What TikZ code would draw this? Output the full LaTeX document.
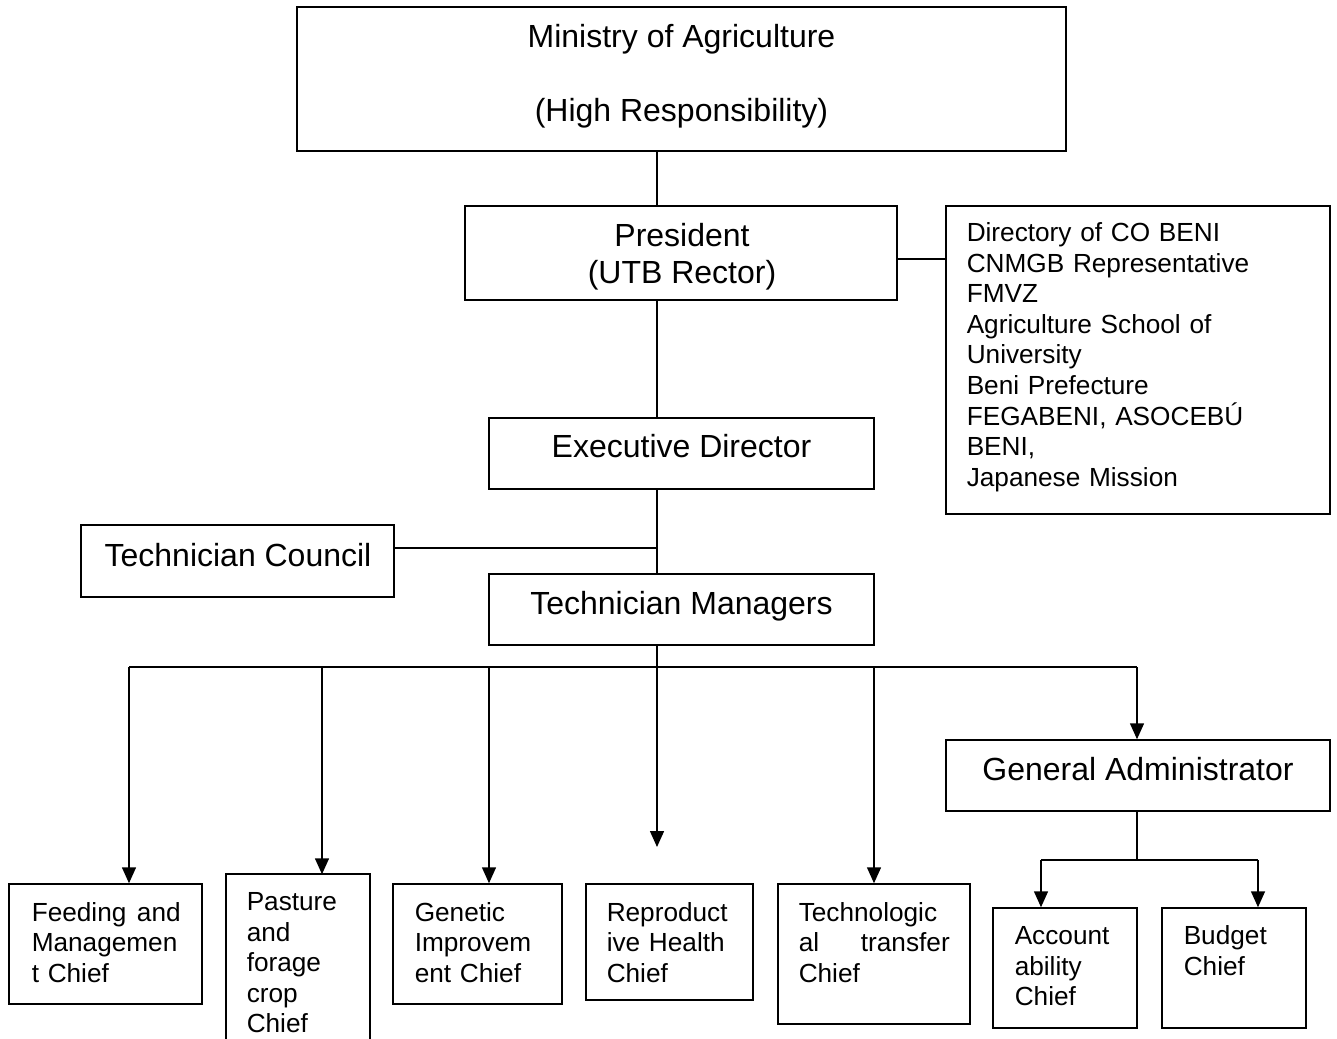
\documentclass[tikz,border=0pt]{standalone}
\usepackage{fontspec}
\setmainfont{Liberation Sans}
\usetikzlibrary{arrows.meta}
\begin{document}
\hyphenpenalty=10000 \exhyphenpenalty=10000
\begin{tikzpicture}[x=1pt,y=-1pt,line width=1.5pt,
  box/.style={draw,line width=1.5pt,inner sep=0pt},
  big/.style={font=\fontsize{32}{37}\selectfont,inner sep=0pt,align=center},
  small/.style={font=\fontsize{26.2}{30.6}\selectfont,inner sep=0pt,align=left,anchor=base west},
  arr/.style={-{Triangle[width=14pt,length=16pt]}}]
\useasboundingbox (0,0) rectangle (1337,1038);
\fill[white] (0,0) rectangle (1337,1038);

% boxes
\node[box,minimum width=769pt,minimum height=144pt] (min) at (681.5,79) {};
\node[box,minimum width=432pt,minimum height=94pt] (pres) at (681,253) {};
\node[box,minimum width=384pt,minimum height=308pt] (dir) at (1138,360) {};
\node[box,minimum width=385pt,minimum height=71pt] (exec) at (681.5,453.5) {};
\node[box,minimum width=313pt,minimum height=72pt] (tc) at (237.5,561) {};
\node[box,minimum width=385pt,minimum height=71pt] (tm) at (681.5,609.5) {};
\node[box,minimum width=384pt,minimum height=71pt] (ga) at (1138,775.5) {};
\node[box,minimum width=193pt,minimum height=120pt] (feed) at (105.5,944) {};
\node[box,minimum width=144pt,minimum height=176pt] (past) at (298,962) {};
\node[box,minimum width=169pt,minimum height=120pt] (gen) at (477.5,944) {};
\node[box,minimum width=167pt,minimum height=116pt] (rep) at (669.5,942) {};
\node[box,minimum width=192pt,minimum height=140pt] (tech) at (874,954) {};
\node[box,minimum width=144pt,minimum height=120pt] (acc) at (1065,968) {};
\node[box,minimum width=144pt,minimum height=120pt] (bud) at (1234,968) {};

% texts
\node[big,anchor=base] (tmin) at (681.5,121.5) {Ministry of Agriculture\\[37pt](High Responsibility)};
\node[big,anchor=base] (tpres) at (682,283.5) {President\\(UTB Rector)};
\node[big,anchor=base] (texec) at (681.5,457.5) {Executive Director};
\node[big,anchor=base] (ttc) at (238,566.5) {Technician Council};
\node[big,anchor=base] (ttm) at (681.5,614.5) {Technician Managers};
\node[big,anchor=base] (tga) at (1138,780.5) {General Administrator};
\node[small,text width=360pt] (tdir) at (966,241.5) {Directory of CO BENI\\CNMGB Representative\\FMVZ\\Agriculture School of\\University\\Beni Prefecture\\FEGABENI, ASOCEB\'U\\BENI,\\Japanese Mission};
\node[small,text width=149pt] (tfeed) at (31,921) {Feeding\hfill and\\Managemen\\t Chief};
\node[small,text width=110pt] (tpast) at (246,910.5) {Pasture\\and\\forage\\crop\\Chief};
\node[small,text width=140pt] (tgen) at (414,921) {Genetic\\Improvem\\ent Chief};
\node[small,text width=140pt] (trep) at (606,921) {Reproduct\\ive Health\\Chief};
\node[small,text width=151pt] (ttech) at (798,921) {Technologic\\al\hfill transfer\\Chief};
\node[small,text width=115pt] (tacc) at (1014,944.5) {Account\\ability\\Chief};
\node[small,text width=115pt] (tbud) at (1183,944.5) {Budget\\Chief};

% helper coordinates
\coordinate (vx) at (657,0);
\coordinate (dy) at (0,259);
\coordinate (cy) at (0,548);
\coordinate (bus) at (657,667);
\coordinate (bf) at (129,667);
\coordinate (bp) at (322,667);
\coordinate (bg) at (489,667);
\coordinate (br) at (657,667);
\coordinate (rend) at (657,847);
\coordinate (bt) at (874,667);
\coordinate (ba) at (1137,667);
\coordinate (gbus) at (1137,860);
\coordinate (gacc) at (1041,860);
\coordinate (gbud) at (1258,860);

% connectors
\draw (min.south -| vx) -- (pres.north -| vx);
\draw (pres.east |- dy) -- (dir.west |- dy);
\draw (pres.south -| vx) -- (exec.north -| vx);
\draw (exec.south -| vx) -- (tm.north -| vx);
\draw (tc.east |- cy) -- (vx |- cy);
\draw (tm.south -| vx) -- (bus);
\draw (bf) -- (ba);
\draw[arr] (bf) -- (bf |- feed.north);
\draw[arr] (bp) -- ([yshift=-1pt]bp |- past.north);
\draw[arr] (bg) -- (bg |- gen.north);
\draw[arr] (br) -- (rend);
\draw[arr] (bt) -- (bt |- tech.north);
\draw[arr] (ba) -- (ba |- ga.north);
\draw (ga.south -| gbus) -- (gbus);
\draw (gacc) -- (gbud);
\draw[arr] (gacc) -- (gacc |- acc.north);
\draw[arr] (gbud) -- (gbud |- bud.north);
\end{tikzpicture}
\end{document}
